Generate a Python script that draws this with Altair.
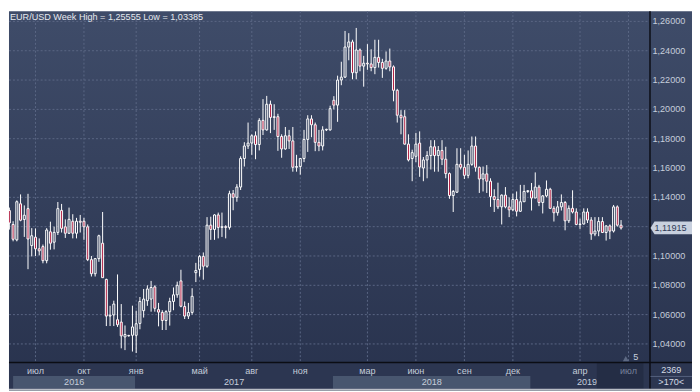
import altair as alt
import pandas as pd

# ---------------- data ----------------
opens = [1.1310,1.1215,1.1110,1.1356,1.1249,1.1323,1.1071,1.1128,1.1049,1.1064,
         1.0968,1.1165,1.1094,1.1161,1.1311,1.1199,1.1155,1.1237,1.1155,1.1237,
         1.1237,1.1199,1.0975,1.0879,1.0982,1.1087,1.0840,1.0590,1.0598,1.0565,
         1.0549,1.0448,1.0455,1.0459,1.0459,1.0540,1.0627,1.0695,1.0706,1.0789,
         1.0634,1.0615,1.0560,1.0620,1.0690,1.0735,1.0830,1.0655,1.0590,1.0615,
         1.0886,1.0908,1.0997,1.0930,1.1210,1.1181,1.1280,1.1195,1.1200,1.1195,
         1.1425,1.1400,1.1470,1.1665,1.1750,1.1770,1.1820,1.1760,1.1925,1.1860,
         1.2035,1.1945,1.1950,1.1815,1.1730,1.1820,1.1785,1.1605,1.1610,1.1665,
         1.1795,1.1935,1.1895,1.1775,1.1750,1.1860,1.1860,1.2062,1.2029,1.2200,
         1.2220,1.2425,1.2460,1.2250,1.2405,1.2295,1.2315,1.2310,1.2285,1.2355,
         1.2320,1.2280,1.2330,1.2290,1.2130,1.1960,1.1950,1.1763,1.1665,1.1680,
         1.1770,1.1600,1.1655,1.1685,1.1745,1.1685,1.1720,1.1660,1.1562,1.1412,
         1.1435,1.1625,1.1605,1.1550,1.1625,1.1750,1.1605,1.1525,1.1560,1.1510,
         1.1405,1.1385,1.1335,1.1415,1.1335,1.1315,1.1385,1.1305,1.1370,1.1440,
         1.1445,1.1395,1.1470,1.1365,1.1410,1.1455,1.1325,1.1295,1.1335,1.1365,
         1.1240,1.1325,1.1300,1.1215,1.1218,1.1300,1.1245,1.1150,1.1170,1.1235,
         1.1160,1.1205,1.1170,1.1335,1.1210]
highs = [1.1330,1.1237,1.1379,1.1420,1.1345,1.1424,1.1190,1.1188,1.1120,1.1078,
         1.1190,1.1234,1.1200,1.1368,1.1355,1.1250,1.1330,1.1285,1.1260,1.1280,
         1.1260,1.1215,1.1000,1.0985,1.1145,1.1300,1.0845,1.0660,1.0695,1.0874,
         1.0672,1.0526,1.0462,1.0661,1.0627,1.0720,1.0775,1.0800,1.0830,1.0800,
         1.0680,1.0630,1.0630,1.0715,1.0785,1.0825,1.0906,1.0690,1.0680,1.0780,
         1.0953,1.1007,1.1024,1.1265,1.1268,1.1285,1.1296,1.1296,1.1210,1.1445,
         1.1450,1.1490,1.1680,1.1776,1.1910,1.1830,1.1850,1.1940,1.2070,1.2092,
         1.2060,1.2035,1.1970,1.1830,1.1880,1.1860,1.1880,1.1690,1.1665,1.1860,
         1.1960,1.1960,1.1910,1.1860,1.1885,1.1868,1.2025,1.2090,1.2230,1.2325,
         1.2535,1.2520,1.2475,1.25555,1.2415,1.2365,1.2445,1.2410,1.2475,1.2475,
         1.2345,1.2395,1.2415,1.2300,1.2140,1.1995,1.1995,1.1830,1.1725,1.1840,
         1.1850,1.1675,1.1715,1.1790,1.1790,1.1750,1.1790,1.1745,1.1570,1.1450,
         1.1735,1.1735,1.1690,1.1720,1.1815,1.1815,1.1610,1.1610,1.1620,1.1530,
         1.1455,1.1500,1.1420,1.1470,1.1400,1.1425,1.1440,1.1485,1.1485,1.1450,
         1.1498,1.1570,1.1485,1.1415,1.1515,1.1465,1.1340,1.1375,1.1420,1.1375,
         1.1345,1.1448,1.1325,1.1255,1.1325,1.1325,1.1265,1.1265,1.1265,1.1265,
         1.1210,1.1215,1.1348,1.1345,1.1245]
lows = [1.1180,1.1100,1.1100,1.1237,1.1130,1.0910,1.0997,1.1000,1.1004,1.0950,
        1.0950,1.1043,1.1045,1.1143,1.1160,1.1123,1.1150,1.1120,1.1120,1.1160,
        1.1110,1.0965,1.0860,1.0860,1.0960,1.0850,1.0522,1.0522,1.0522,1.0516,
        1.0370,1.0358,1.0450,1.0348,1.03385,1.0500,1.0580,1.0660,1.0620,1.0620,
        1.0520,1.0495,1.0495,1.0525,1.0630,1.0715,1.0650,1.0570,1.0570,1.0600,
        1.0822,1.0860,1.0838,1.0920,1.1110,1.1110,1.1120,1.1130,1.1120,1.1180,
        1.1312,1.1370,1.1450,1.1610,1.1730,1.1690,1.1660,1.1720,1.1825,1.1855,
        1.1838,1.1860,1.1717,1.1670,1.1725,1.1730,1.1575,1.1575,1.1555,1.1640,
        1.1710,1.1810,1.1715,1.1715,1.1720,1.1852,1.1855,1.2000,1.1915,1.2165,
        1.2215,1.2335,1.2205,1.2205,1.2260,1.2155,1.2270,1.2260,1.2240,1.2285,
        1.2215,1.2270,1.2260,1.2055,1.1910,1.1830,1.1760,1.1645,1.1510,1.1640,
        1.1540,1.1510,1.1530,1.1590,1.1575,1.1575,1.1620,1.1530,1.1390,1.1300,
        1.1430,1.1590,1.1525,1.1530,1.1615,1.1575,1.1430,1.1440,1.1430,1.1335,
        1.1300,1.1320,1.1215,1.1325,1.1265,1.1305,1.1270,1.1300,1.1370,1.1430,
        1.1310,1.1395,1.1340,1.1290,1.1400,1.1320,1.1235,1.1275,1.1310,1.1175,
        1.1225,1.1290,1.1210,1.1185,1.1215,1.1225,1.1110,1.1135,1.1135,1.1160,
        1.1105,1.1115,1.1160,1.1200,1.1180]
closes = [1.1225,1.1114,1.1370,1.1244,1.1278,1.1116,1.1138,1.1049,1.1035,1.0968,
          1.1177,1.1087,1.1161,1.1323,1.1188,1.1155,1.1250,1.1155,1.1237,1.1230,
          1.1199,1.0975,1.0879,1.0982,1.1138,1.0852,1.0590,1.0596,1.0672,1.0531,
          1.0455,1.0464,1.0458,1.0516,1.0538,1.0690,1.0706,1.0775,1.0785,1.0643,
          1.0617,1.0560,1.0620,1.0690,1.0735,1.0800,1.0657,1.0590,1.0615,1.0725,
          1.0901,1.0997,1.0930,1.1210,1.1181,1.1280,1.1195,1.1200,1.1195,1.1425,
          1.1400,1.1470,1.1665,1.1750,1.1770,1.1820,1.1760,1.1925,1.1860,1.2035,
          1.1945,1.1950,1.1815,1.1730,1.1820,1.1785,1.1605,1.1610,1.1665,1.1795,
          1.1935,1.1895,1.1775,1.1750,1.1860,1.1864,1.2005,1.2029,1.2200,1.2220,
          1.2425,1.2460,1.2250,1.2405,1.2295,1.2315,1.2310,1.2285,1.2355,1.2320,
          1.2280,1.2330,1.2290,1.2130,1.1960,1.1943,1.1763,1.1655,1.1705,1.1763,
          1.1607,1.1655,1.1685,1.1745,1.1685,1.1720,1.1660,1.1562,1.1412,1.1440,
          1.1625,1.1605,1.1550,1.1625,1.1750,1.1605,1.1525,1.1560,1.1510,1.1405,
          1.1385,1.1335,1.1415,1.1335,1.1315,1.1385,1.1305,1.1370,1.1440,1.1445,
          1.1395,1.1470,1.1365,1.1410,1.1455,1.1325,1.1295,1.1335,1.1365,1.1240,
          1.1325,1.1300,1.1215,1.1218,1.1300,1.1245,1.1150,1.1170,1.1235,1.1160,
          1.1205,1.1170,1.1335,1.1210,1.11915]

month_labels = ["июл", "окт", "янв", "май", "авг", "ноя", "мар", "июн", "сен", "дек", "апр", "июл"]
month_pos = [7, 20, 34, 51, 65, 78, 96, 109, 122, 135, 153, 166]      # candle index of month start
year_labels = ["2016", "2017", "2018", "2019"]
year_start = [1.0, 33.75, 86.75, 139.75]
year_end = [33.75, 86.75, 139.75, 170.0]
price_ticks = [1.04, 1.06, 1.08, 1.10, 1.12, 1.14, 1.16, 1.18, 1.20, 1.22, 1.24, 1.26]
last_price = 1.11915
title_text = "EUR/USD Week High = 1,25555 Low = 1,03385"
corner_top = "2369"
corner_bottom = ">170<"
shift_label = "5"

# ---------------- layout ----------------
W, H = 692, 384          # whole chart
PW, PH = 648, 355        # plot area
STEP, X0 = 3.84, 3.3     # candle spacing / first candle in reference pixels
FONT = "Liberation Sans"

xs = alt.Scale(domain=[(8 - X0) / STEP, (700 - X0) / STEP], nice=False, zero=False)
ys = alt.Scale(domain=[1.04 - 46.5 / 1487, 1.04 + 337.5 / 1487], nice=False, zero=False)

n = len(opens)
df = pd.DataFrame({"idx": list(range(n)), "o": opens, "h": highs, "l": lows, "c": closes})
df["top"] = df[["o", "c"]].max(axis=1)
df["bot"] = df[["o", "c"]].min(axis=1)
df["bear"] = df["c"] < df["o"]

X = lambda f: alt.X(f, scale=xs, axis=None)
Y = lambda f: alt.Y(f, scale=ys, axis=None)

one = pd.DataFrame({"a": [0]})

bg = alt.Chart(one).mark_rect(
    color=alt.Gradient(gradient="linear", x1=0, x2=0, y1=0, y2=1,
                       stops=[alt.GradientStop(color="#3f4c69", offset=0),
                              alt.GradientStop(color="#28324d", offset=1)])
).encode(x=alt.value(0), x2=alt.value(W), y=alt.value(0), y2=alt.value(H))

tick_df = pd.DataFrame({"v": price_ticks,
                        "lab": [f"{v:.5f}".replace(".", ",") for v in price_ticks]})
month_df = pd.DataFrame({"pos": month_pos, "lab": month_labels})
year_df = pd.DataFrame({"lab": year_labels, "s": year_start, "e": year_end,
                        "band": [1, 0, 1, 0]})
year_df["mid"] = (year_df["s"] + year_df["e"]) / 2

hgrid = alt.Chart(tick_df).mark_rule(color="#5a6684", strokeDash=[2, 2], strokeWidth=1).encode(
    y=Y("v:Q"), x=alt.value(0), x2=alt.value(PW))
vgrid = alt.Chart(month_df).mark_rule(color="#5a6684", strokeDash=[2, 2], strokeWidth=1).encode(
    x=X("pos:Q"), y=alt.value(0), y2=alt.value(PH))

base = alt.Chart(df)
wick_up = base.mark_rule(color="white", strokeWidth=1, clip=True).encode(
    x=X("idx:Q"), y=Y("h:Q"), y2="top:Q")
wick_dn = base.mark_rule(color="white", strokeWidth=1, clip=True).encode(
    x=X("idx:Q"), y=Y("bot:Q"), y2="l:Q")
body_bull = base.transform_filter("!datum.bear").mark_bar(
    width=2, fillOpacity=0, stroke="white", strokeWidth=1, clip=True).encode(
    x=X("idx:Q"), y=Y("bot:Q"), y2="top:Q")
body_bear = base.transform_filter("datum.bear").mark_bar(
    width=2, fill="#b01c40", stroke="white", strokeWidth=1, clip=True).encode(
    x=X("idx:Q"), y=Y("bot:Q"), y2="top:Q")

frame_r = alt.Chart(one).mark_rule(color="#0b0d14", strokeWidth=1.5).encode(
    x=alt.value(PW + 0.5), y=alt.value(0), y2=alt.value(H - 2))
# the label hidden under the last-price marker is not drawn
ylabels = alt.Chart(tick_df).transform_filter(
    f"abs(datum.v - {last_price}) > 0.006"
).mark_text(align="left", baseline="middle", font=FONT,
            fontSize=9.2, color="#c6cedb").encode(
    x=alt.value(PW + 3), y=Y("v:Q"), text="lab:N")

price_df = pd.DataFrame({"p": [last_price], "lab": [f"{last_price:.5f}".replace(".", ",")]})
price_box = alt.Chart(price_df).mark_point(
    shape="M-1,0L-0.81,-0.3L1,-0.3L1,0.3L-0.81,0.3Z", size=1849, filled=True,
    fill="#c8d0de", opacity=1, strokeWidth=0).encode(x=alt.value(670.5), y=Y("p:Q"))
price_txt = alt.Chart(price_df).mark_text(align="left", baseline="middle", font=FONT,
                                          fontSize=9.2, color="#2f3b56").encode(
    x=alt.value(PW + 5), y=Y("p:Q"), text="lab:N")

# bottom strip
strip = alt.Chart(one).mark_rect(color="#2c3651").encode(
    x=alt.value(0), x2=alt.value(W), y=alt.value(PH), y2=alt.value(H))
bands = alt.Chart(year_df).mark_rect().encode(
    x=X("s:Q"), x2="e:Q", y=alt.value(369), y2=alt.value(382),
    color=alt.Color("band:N", scale=alt.Scale(domain=[1, 0], range=["#48566f", "#2c3651"]),
                    legend=None))
year_txt = alt.Chart(year_df).mark_text(baseline="middle", font=FONT, fontSize=9.2,
                                        color="#c6cedb").encode(
    x=X("mid:Q"), y=alt.value(375.5), text="lab:N")
shift_df = pd.DataFrame({"s": [157.5], "e": [170.0]})
shift_box = alt.Chart(shift_df).mark_rect(color="#242d45").encode(
    x=X("s:Q"), x2="e:Q", y=alt.value(356), y2=alt.value(382))
month_txt = alt.Chart(month_df).mark_text(baseline="middle", font=FONT, fontSize=9.2).encode(
    x=X("pos:Q"), y=alt.value(364), text="lab:N",
    color=alt.condition("datum.pos > 157", alt.value("#76829a"), alt.value("#c3cbd8")))
frame_b = alt.Chart(one).mark_rule(color="#0b0d14", strokeWidth=1.5).encode(
    y=alt.value(PH + 0.5), x=alt.value(0), x2=alt.value(W))
edge_b = alt.Chart(one).mark_rect(color="#b9bdc5").encode(
    x=alt.value(0), x2=alt.value(W), y=alt.value(382), y2=alt.value(H))
corner_line = alt.Chart(one).mark_rule(color="#56627e", strokeWidth=1).encode(
    y=alt.value(369.5), x=alt.value(PW + 1), x2=alt.value(W))
corner_txt1 = alt.Chart(pd.DataFrame({"lab": [corner_top]})).mark_text(
    baseline="middle", font=FONT, fontSize=9.2, color="#d3dae5").encode(
    x=alt.value(670), y=alt.value(363), text="lab:N")
corner_txt2 = alt.Chart(pd.DataFrame({"lab": [corner_bottom]})).mark_text(
    baseline="middle", font=FONT, fontSize=9.2, color="#d3dae5").encode(
    x=alt.value(670), y=alt.value(375.5), text="lab:N")
shift_tri = alt.Chart(one).mark_point(shape="triangle-up", size=35, filled=True,
                                      color="#5d6983", opacity=1).encode(
    x=alt.value(624), y=alt.value(351.5))
shift_txt = alt.Chart(pd.DataFrame({"lab": [shift_label]})).mark_text(
    baseline="middle", font=FONT, fontSize=9.2, color="#c6cedb").encode(
    x=alt.value(634), y=alt.value(350), text="lab:N")

title = alt.Chart(pd.DataFrame({"lab": [title_text]})).mark_text(
    align="left", baseline="alphabetic", font=FONT, fontSize=9.2, color="#e6e9ee").encode(
    x=alt.value(1), y=alt.value(9), text="lab:N")

chart = alt.layer(
    bg, hgrid, vgrid, wick_up, wick_dn, body_bull, body_bear,
    strip, bands, year_txt, shift_box, month_txt, frame_b, frame_r, edge_b,
    corner_line, corner_txt1, corner_txt2, shift_tri, shift_txt,
    ylabels, price_box, price_txt, title
).properties(
    width=W, height=H, padding=0,
    autosize=alt.AutoSizeParams(type="fit", contains="padding"),
).configure_view(stroke=None)

chart.save("out.html", embed_options={"renderer": "svg", "actions": False})
